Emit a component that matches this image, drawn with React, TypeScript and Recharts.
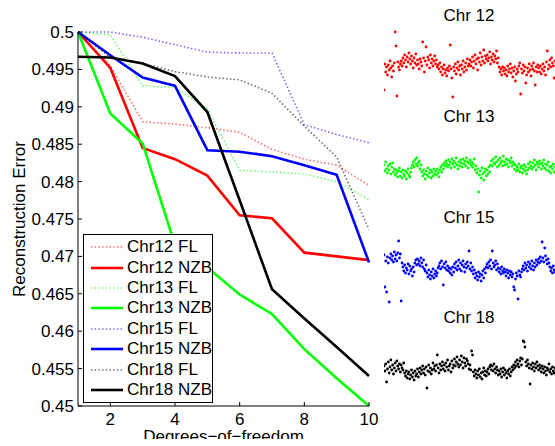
import React from "react";
import {
  Legend,
  Line,
  LineChart,
  Scatter,
  ScatterChart,
  XAxis,
  YAxis,
} from "recharts";

const FONT = "'Liberation Sans', Arial, Helvetica, sans-serif";

// reconstruction error vs degrees of freedom
const dof = [1, 2, 3, 4, 5, 6, 7, 8, 9, 10];
const chr12FL = [0.5, 0.4955, 0.488, 0.4877, 0.4872, 0.4866, 0.4843, 0.483, 0.4822, 0.4795];
const chr12NZB = [0.5, 0.4952, 0.4845, 0.483, 0.4808, 0.4755, 0.4751, 0.4705, 0.47, 0.4695];
const chr13FL = [0.5, 0.4996, 0.4928, 0.4926, 0.4897, 0.4815, 0.4813, 0.481, 0.48, 0.4776];
const chr13NZB = [0.5, 0.4891, 0.4851, 0.4715, 0.4685, 0.4649, 0.4623, 0.4576, 0.4537, 0.45];
const chr15FL = [0.5, 0.5, 0.4993, 0.4983, 0.4973, 0.4972, 0.4972, 0.4876, 0.4863, 0.4852];
const chr15NZB = [0.5, 0.4969, 0.4939, 0.4928, 0.4842, 0.484, 0.4834, 0.4822, 0.4809, 0.4692];
const chr18FL = [0.5, 0.4966, 0.4958, 0.4947, 0.494, 0.4936, 0.4918, 0.4874, 0.4833, 0.4736];
const chr18NZB = [0.4967, 0.4966, 0.4958, 0.4941, 0.4893, 0.4775, 0.4656, 0.4617, 0.4579, 0.454];

const yTicks = [0.45, 0.455, 0.46, 0.465, 0.47, 0.475, 0.48, 0.485, 0.49, 0.495, 0.5];
const xTicks = [2, 4, 6, 8, 10];

// per-chromosome signal strips (small panels on the right)
const chr12Signal = [
  15, 41, 33, 38, 30, 40, 35, 44, 37, 28, 39, 34, 42, 73, 59, 9, 43, 38, 35, 41,
  44, 39, 47, 42, 50, 45, 38, 48, 43, 52, 46, 41, 49, 44, 37, 47, 42, 51, 40, 45,
  41, 36, 46, 43, 39, 63, 47, 33, 44, 58, 40, 48, 45, 37, 50, 42, 46, 39, 44, 49,
  41, 45, 38, 40, 36, 42, 33, 38, 30, 36, 40, 32, 35, 29, 37, 34, 39, 60, 36, 27,
  8, 38, 34, 41, 31, 37, 43, 35, 39, 30, 40, 36, 44, 33, 38, 42, 35, 46, 39, 41,
  45, 39, 43, 48, 37, 44, 50, 41, 46, 35, 47, 43, 52, 40, 48, 44, 55, 42, 49, 46,
  50, 44, 47, 53, 41, 48, 45, 51, 43, 49, 46, 54, 42, 47, 38, 33, 36, 30, 38, 34,
  37, 31, 35, 29, 39, 33, 36, 41, 32, 37, 28, 34, 38, 24, 31, 36, 33, 39, 42, 11,
  36, 32, 40, 34, 38, 22, 30, 37, 33, 41, 35, 29, 39, 36, 42, 34, 20, 38, 33, 40,
  37, 33, 39, 31, 36, 41, 34, 38, 30, 43, 54, 36, 40, 45, 38, 47, 42, 39, 27, 44,
];
const chr13Signal = [
  35, 29, 38, 31, 27, 34, 30, 36, 26, 33, 37, 28, 31, 25, 30, 27, 23, 29, 32, 24,
  28, 22, 30, 26, 24, 29, 21, 27, 31, 25, 23, 28, 32, 35, 38, 33, 40, 36, 42, 34,
  37, 39, 31, 35, 28, 24, 30, 26, 21, 29, 25, 32, 23, 27, 30, 22, 28, 24, 31, 26,
  29, 25, 31, 27, 23, 30, 33, 28, 35, 31, 37, 34, 39, 36, 33, 40, 35, 38, 32, 41,
  36, 39, 33, 37, 42, 35, 31, 38, 34, 40, 37, 33, 41, 36, 39, 34, 42, 38, 32, 37,
  40, 35, 38, 33, 36, 41, 30, 34, 27, 31, 8, 25, 29, 22, 32, 26, 20, 28, 31, 24,
  30, 26, 33, 28, 35, 39, 34, 41, 37, 36, 43, 38, 33, 40, 35, 42, 37, 39, 34, 44,
  38, 35, 41, 36, 40, 33, 39, 37, 42, 34, 38, 36, 31, 35, 29, 33, 30, 36, 28, 32,
  34, 27, 31, 35, 29, 33, 26, 30, 36, 32, 38, 34, 31, 37, 33, 40, 35, 30, 38, 36,
  33, 39, 36, 31, 37, 34, 40, 32, 36, 30, 35, 38, 29, 33, 27, 34, 31, 36, 28, 33,
];
const chr15Signal = [
  52, 20, 46, 15, 50, 44, 5, 49, 53, 47, 51, 45, 55, 48, 52, 46, 54, 66, 49, 53,
  6, 44, 40, 36, 42, 34, 39, 37, 43, 33, 41, 36, 38, 31, 40, 35, 44, 47, 42, 48,
  43, 46, 41, 49, 44, 40, 47, 38, 36, 42, 34, 30, 37, 32, 28, 35, 31, 38, 29, 33,
  36, 31, 34, 39, 41, 44, 38, 46, 40, 22, 43, 39, 45, 37, 41, 36, 39, 34, 38, 32,
  40, 35, 43, 39, 45, 37, 41, 47, 38, 44, 36, 42, 46, 40, 35, 43, 39, 45, 41, 56,
  38, 44, 36, 40, 33, 37, 29, 34, 31, 27, 35, 30, 33, 26, 32, 36, 29, 38, 34, 40,
  43, 39, 45, 41, 47, 38, 56, 44, 40, 42, 46, 37, 43, 39, 35, 38, 33, 40, 36, 34,
  38, 35, 31, 37, 34, 29, 36, 32, 35, 30, 33, 20, 17, 28, 34, 31, 8, 36, 32, 30,
  35, 38, 41, 37, 44, 39, 42, 36, 45, 40, 43, 38, 46, 41, 37, 44, 40, 47, 42, 45,
  48, 44, 50, 46, 65, 49, 45, 59, 51, 47, 43, 48, 44, 40, 36, 39, 34, 41, 37, 35,
];
const chr18Signal = [
  29, 24, 31, 13, 26, 33, 22, 28, 35, 25, 30, 21, 27, 32, 24, 34, 29, 26, 31, 23,
  30, 27, 25, 32, 22, 19, 24, 17, 21, 23, 16, 20, 25, 18, 22, 15, 24, 19, 21, 26,
  18, 23, 27, 21, 25, 29, 22, 26, 20, 28, 7, 24, 30, 23, 27, 21, 25, 32, 26, 29,
  24, 30, 40, 27, 22, 31, 25, 29, 33, 26, 30, 24, 32, 28, 35, 25, 29, 31, 23, 34,
  27, 30, 36, 29, 33, 38, 31, 28, 35, 30, 39, 33, 27, 37, 32, 29, 36, 34, 31, 26,
  30, 25, 44, 40, 23, 19, 25, 21, 17, 24, 20, 26, 18, 22, 16, 23, 27, 20, 24, 19,
  23, 26, 21, 28, 30, 25, 29, 24, 31, 26, 22, 28, 25, 20, 24, 21, 26, 18, 23, 27,
  20, 25, 22, 17, 24, 21, 26, 19, 23, 28, 25, 30, 27, 33, 29, 35, 31, 28, 34, 37,
  30, 36, 54, 53, 48, 33, 29, 35, 31, 27, 11, 30, 26, 32, 28, 24, 31, 27, 33, 29,
  25, 30, 27, 23, 29, 26, 22, 28, 24, 20, 27, 25, 31, 23, 26, 21, 28, 24, 22, 27,
];

const series = [
  { key: "chr12FL", name: "Chr12 FL", values: chr12FL, color: "#ff0000", dotted: true },
  { key: "chr12NZB", name: "Chr12 NZB", values: chr12NZB, color: "#ff0000", dotted: false },
  { key: "chr13FL", name: "Chr13 FL", values: chr13FL, color: "#00ff00", dotted: true },
  { key: "chr13NZB", name: "Chr13 NZB", values: chr13NZB, color: "#00ff00", dotted: false },
  { key: "chr15FL", name: "Chr15 FL", values: chr15FL, color: "#0000ff", dotted: true },
  { key: "chr15NZB", name: "Chr15 NZB", values: chr15NZB, color: "#0000ff", dotted: false },
  { key: "chr18FL", name: "Chr18 FL", values: chr18FL, color: "#000000", dotted: true },
  { key: "chr18NZB", name: "Chr18 NZB", values: chr18NZB, color: "#000000", dotted: false },
];

const rows = dof.map((d, i) => {
  const row: Record<string, number> = { dof: d };
  series.forEach((s) => (row[s.key] = s.values[i]));
  return row;
});

const strips = [
  { title: "Chr 12", values: chr12Signal, color: "#ff0000", top: 25, height: 80, titleTop: 6 },
  { title: "Chr 13", values: chr13Signal, color: "#00ff00", top: 140, height: 60, titleTop: 107 },
  { title: "Chr 15", values: chr15Signal, color: "#0000ff", top: 232, height: 75, titleTop: 207.5 },
  { title: "Chr 18", values: chr18Signal, color: "#000000", top: 335, height: 60, titleTop: 308 },
];

const lineStyle = (s: { color: string; dotted: boolean }) =>
  s.dotted
    ? { stroke: s.color, strokeWidth: 1.6, strokeDasharray: "1.4 2.3", strokeOpacity: 0.6 }
    : { stroke: s.color, strokeWidth: 2.6 };

function LegendBox() {
  return (
    <div
      style={{
        width: 128,
        height: 165,
        border: "1px solid #000",
        background: "#fff",
        paddingTop: 2,
        boxSizing: "content-box",
        fontFamily: FONT,
        fontSize: 17,
      }}
    >
      {series.map((s) => (
        <div key={s.key} style={{ height: 20.4, display: "flex", alignItems: "center" }}>
          <svg width={42} height={10} style={{ flex: "none" }}>
            <line x1={7} x2={39} y1={5} y2={5} {...lineStyle(s)} />
          </svg>
          <span style={{ marginLeft: 1, lineHeight: "20px", whiteSpace: "nowrap" }}>{s.name}</span>
        </div>
      ))}
    </div>
  );
}

const dot = (color: string) => (p: any) => <circle cx={p.cx} cy={p.cy} r={1.4} fill={color} />;

function Strip({ strip }: { strip: (typeof strips)[number] }) {
  const data = strip.values.map((v, i) => ({ x: i, y: v }));
  return (
    <>
      <div
        style={{
          position: "absolute",
          left: 384,
          top: strip.titleTop,
          width: 170,
          textAlign: "center",
          fontFamily: FONT,
          fontSize: 17,
          lineHeight: "20px",
        }}
      >
        {strip.title}
      </div>
      <div style={{ position: "absolute", left: 384, top: strip.top }}>
        <ScatterChart width={171} height={strip.height} margin={{ top: 0, right: 0, bottom: 0, left: 0 }}>
          <XAxis type="number" dataKey="x" domain={[0, strip.values.length - 1]} hide />
          <YAxis type="number" dataKey="y" domain={[0, strip.height]} hide />
          <Scatter data={data} shape={dot(strip.color)} isAnimationActive={false} />
        </ScatterChart>
      </div>
    </>
  );
}

export default function App() {
  return (
    <div
      style={{
        position: "fixed",
        left: 0,
        top: 0,
        width: 555,
        height: 446,
        overflow: "hidden",
        background: "#fff",
        fontFamily: FONT,
      }}
    >
      <div style={{ position: "absolute", left: 0, top: 0, width: 380, height: 439, overflow: "hidden" }}>
        <LineChart width={380} height={446} data={rows} margin={{ top: 32, right: 11, bottom: 0, left: 18 }}>
          <XAxis
            dataKey="dof"
            type="number"
            domain={[1, 10]}
            ticks={xTicks}
            height={40}
            stroke="#000"
            tickSize={-4}
            tickMargin={11}
            tick={{ fontSize: 17, fill: "#000", fontFamily: FONT }}
            label={{
              content: (p: any) => (
                <text
                  x={p.viewBox.x + p.viewBox.width / 2}
                  y={p.viewBox.y + 36}
                  textAnchor="middle"
                  fontSize={17}
                  fontFamily={FONT}
                  fill="#000"
                >
                  Degrees−of−freedom
                </text>
              ),
            }}
          />
          <YAxis
            type="number"
            domain={[0.45, 0.5]}
            ticks={yTicks}
            width={60}
            stroke="#000"
            tickSize={-4}
            tickMargin={8}
            tick={{ fontSize: 17, fill: "#000", fontFamily: FONT }}
            tickFormatter={(v: number) => String(Number(v.toFixed(3)))}
            label={{
              content: (p: any) => {
                const x = p.viewBox.x + 7;
                const y = p.viewBox.y + p.viewBox.height / 2;
                return (
                  <text
                    x={x}
                    y={y}
                    transform={`rotate(-90 ${x} ${y})`}
                    textAnchor="middle"
                    fontSize={17}
                    fontFamily={FONT}
                    fill="#000"
                  >
                    Reconstruction Error
                  </text>
                );
              },
            }}
          />
          {series.map((s) => (
            <Line
              key={s.key}
              dataKey={s.key}
              name={s.name}
              type="linear"
              dot={false}
              activeDot={false}
              isAnimationActive={false}
              {...lineStyle(s)}
            />
          ))}
          <Legend
            layout="horizontal"
            verticalAlign="middle"
            align="center"
            content={() => <LegendBox />}
            wrapperStyle={{ left: 83, top: 234, width: 130, height: 168 }}
          />
        </LineChart>
      </div>
      {strips.map((s) => (
        <Strip key={s.title} strip={s} />
      ))}
    </div>
  );
}
